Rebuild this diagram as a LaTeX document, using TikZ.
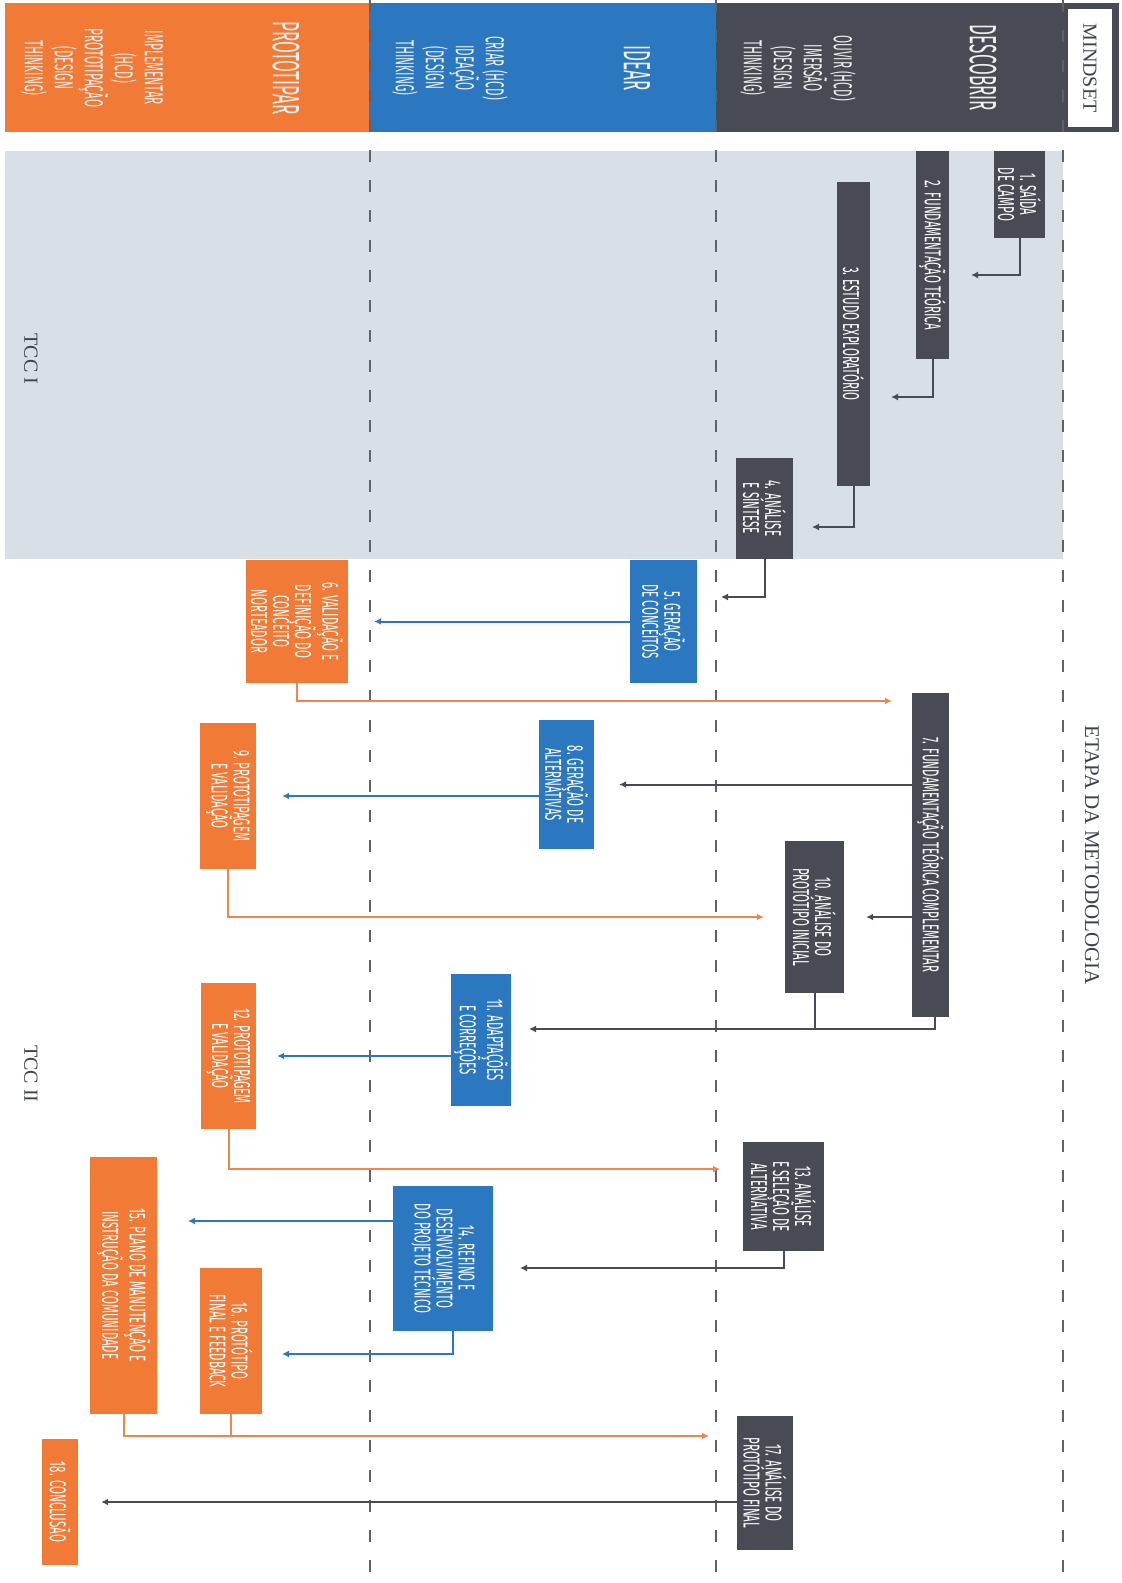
\documentclass[tikz,border=0pt]{standalone}
\usepackage{fontspec}
\usepackage{tikz}
\usetikzlibrary{arrows.meta}

\newfontfamily\narrowfont[FakeStretch=0.45]{Fira Sans}
\newfontfamily\stagefont[FakeStretch=0.5]{Fira Sans}
\newfontfamily\labelfont{Liberation Serif}

\definecolor{stagedark}{RGB}{72,75,84}
\definecolor{stageblue}{RGB}{43,120,192}
\definecolor{stageorange}{RGB}{240,122,54}
\definecolor{flowline}{RGB}{236,135,80}
\definecolor{tccshade}{RGB}{216,223,230}
\definecolor{lanegray}{RGB}{95,98,105}
\definecolor{labelgray}{RGB}{60,66,78}

\begin{document}
\begin{tikzpicture}[
        x=1pt, y=-1pt,
        stage/.style={
            rotate=-90,
            inner sep=0pt,
            align=center,
            text=white,
            font=\stagefont\fontsize{23}{22}\selectfont
        },
        darkstage/.style={stage, fill=stagedark},
        bluestage/.style={stage, fill=stageblue},
        orangestage/.style={stage, fill=stageorange},
        headtitle/.style={rotate=-90, text=white!94!black, font=\narrowfont\fontsize{38}{38}\selectfont},
        headsub/.style={rotate=-90, align=center, text=white!94!black, font=\narrowfont\fontsize{26}{30}\selectfont},
        sidelabel/.style={rotate=-90, text=labelgray, font=\labelfont\fontsize{20}{20}\selectfont},
        lane/.style={draw=lanegray, line width=1.8pt, dash pattern=on 12pt off 18pt},
        flow/.style={draw, -{Latex[length=7pt,width=7pt]}, line width=2pt},
        darkflow/.style={flow, stagedark},
        blueflow/.style={flow, stageblue},
        orangeflow/.style={flow, flowline},
        darkjoin/.style={draw=stagedark, line width=2pt},
        orangejoin/.style={draw=flowline, line width=2pt}
    ]
        \useasboundingbox (0,0) rectangle (1122,1583);

        % TCC I shading and header bands
        \fill[tccshade] (5,151) rectangle (1063,559);
        \fill[stageorange] (5,3) rectangle (369,132);
        \fill[stageblue] (369,3) rectangle (716,132);
        \fill[stagedark] (716,3) rectangle (1119,132);

        % Lanes
        \draw[lane] (370,0) -- (370,1583);
        \draw[lane] (716,0) -- (716,1583);
        \draw[lane] (1063,0) -- (1063,1583);

        % Header
        \node[headsub] (implementar) at (92,68) {IMPLEMENTAR\\(HCD)\\PROTOTIPAÇÃO\\(DESIGN\\THINKING)};
        \node[headtitle] (prototipar) at (286,68) {PROTOTIPAR};
        \node[headsub] (criar) at (450,68) {CRIAR (HCD)\\IDEAÇÃO\\(DESIGN\\THINKING)};
        \node[headtitle] (idear) at (637,68) {IDEAR};
        \node[headsub] (ouvir) at (798,68) {OUVIR (HCD)\\IMERSÃO\\(DESIGN\\THINKING)};
        \node[headtitle] (descobrir) at (983,68) {DESCOBRIR};
        \node[sidelabel, fill=white, minimum width=118pt, minimum height=44pt] (mindset) at (1090,68) {MINDSET};

        % Side labels
        \node[sidelabel, font=\labelfont\fontsize{21}{21}\selectfont] (etapa) at (1092,855) {ETAPA DA METODOLOGIA};
        \node[sidelabel] (tcc1) at (31,359) {TCC I};
        \node[sidelabel] (tcc2) at (31,1074) {TCC II};

        % Stages
        \node[darkstage, minimum width=87pt, minimum height=51pt] (s1) at (1019.5,194.5) {1. SAÍDA\\DE CAMPO};
        \node[darkstage, minimum width=208pt, minimum height=33pt] (s2) at (932.5,255) {2. FUNDAMENTAÇÃO TEÓRICA};
        \node[darkstage, minimum width=304pt, minimum height=33pt] (s3) at (853.5,334) {3. ESTUDO EXPLORATÓRIO};
        \node[darkstage, minimum width=101pt, minimum height=57pt] (s4) at (764.5,508.5) {4. ANÁLISE\\E SÍNTESE};
        \node[bluestage, minimum width=123pt, minimum height=67pt] (s5) at (663.5,621.5) {5. GERAÇÃO\\DE CONCEITOS};
        \node[orangestage, minimum width=123pt, minimum height=102pt] (s6) at (297,621.5) {6. VALIDAÇÃO E\\DEFINIÇÃO DO\\CONCEITO\\NORTEADOR};
        \node[darkstage, minimum width=324pt, minimum height=37pt] (s7) at (930.5,855) {7. FUNDAMENTAÇÃO TEÓRICA COMPLEMENTAR};
        \node[bluestage, minimum width=129pt, minimum height=55pt] (s8) at (566.5,784.5) {8. GERAÇÃO DE\\ALTERNATIVAS};
        \node[orangestage, minimum width=146pt, minimum height=56pt] (s9) at (228,796) {9. PROTOTIPAGEM\\E VALIDAÇÃO};
        \node[darkstage, minimum width=152pt, minimum height=59pt] (s10) at (814.5,917) {10. ANÁLISE DO\\PROTÓTIPO INICIAL};
        \node[bluestage, minimum width=132pt, minimum height=60pt] (s11) at (481,1040) {11. ADAPTAÇÕES\\E CORREÇÕES};
        \node[orangestage, minimum width=146pt, minimum height=55pt] (s12) at (228.5,1056) {12. PROTOTIPAGEM\\E VALIDAÇÃO};
        \node[darkstage, minimum width=109pt, minimum height=81pt] (s13) at (783.5,1196.5) {13. ANÁLISE\\E SELEÇÃO DE\\ALTERNATIVA};
        \node[bluestage, minimum width=145pt, minimum height=100pt] (s14) at (443,1258.5) {14. REFINO E\\DESENVOLVIMENTO\\DO PROJETO TÉCNICO};
        \node[orangestage, minimum width=257pt, minimum height=67pt] (s15) at (123.5,1285.5) {15. PLANO DE MANUTENÇÃO E\\INSTRUÇÃO DA COMUNIDADE};
        \node[orangestage, minimum width=146pt, minimum height=62pt] (s16) at (231,1341) {16. PROTÓTIPO\\FINAL E FEEDBACK};
        \node[darkstage, minimum width=134pt, minimum height=56pt] (s17) at (765,1483) {17. ANÁLISE DO\\PROTÓTIPO FINAL};
        \node[orangestage, minimum width=126pt, minimum height=36pt] (s18) at (60,1502) {18. CONCLUSÃO};

        % Free arrow ends
        \coordinate (in2) at (971,275);
        \coordinate (in3) at (891,397);
        \coordinate (in4) at (812,527);
        \coordinate (in5) at (721,597);
        \coordinate (in7) at (892,701);
        \coordinate (in11) at (529,1029);
        \coordinate (in13) at (720,1169);
        \coordinate (in14) at (520,1268);
        \coordinate (in15) at (188,1221);
        \coordinate (in16) at (282,1354);
        \coordinate (in17) at (709,1436);

        % Paths
        \path[darkflow] (s1) |- (in2);
        \path[darkflow] (s2) |- (in3);
        \path[darkflow] (s3) |- (in4);
        \path[darkflow] (s4) |- (in5);
        \path[blueflow] (s5) -- ([xshift=26pt]s6.north);
        \path[orangeflow] (s6) |- (in7);
        \path[darkflow] (s8 -| s7.south) -- ([xshift=25pt]s8.north);
        \path[blueflow] (s9 -| s8.south) -- ([xshift=26pt]s9.north);
        \path[orangeflow] (s9) |- ([xshift=-21pt]s10.south);
        \path[darkflow] (s10 -| s7.south) -- ([xshift=22pt]s10.north);
        \path[darkjoin] (s10) -- (s10 |- in11);
        \path[darkflow] ([xshift=4pt]s7.east) |- (in11);
        \path[blueflow] (s12 -| s11.south) -- ([xshift=21pt]s12.north);
        \path[orangeflow] (s12) |- (in13);
        \path[darkflow] (s13) |- (in14);
        \path[blueflow] (in15 -| s14.south) -- (in15);
        \path[blueflow] ([xshift=10pt]s14.east) |- (in16);
        \path[orangejoin] (s16) -- (s16 |- in17);
        \path[orangeflow] (s15) |- (in17);
        \path[darkflow] (s18 -| s17.south) -- ([xshift=23pt]s18.north);
    \end{tikzpicture}
\end{document}
